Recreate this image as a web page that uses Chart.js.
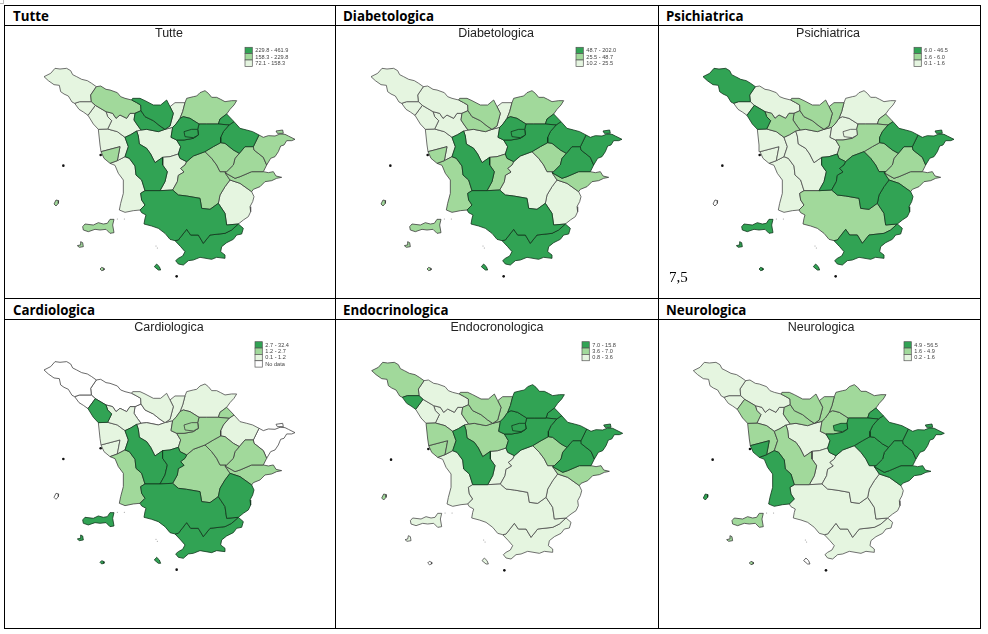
<!DOCTYPE html>
<html><head><meta charset="utf-8">
<script src="https://cdn.jsdelivr.net/npm/chart.js@4"></script>
<style>
html,body{margin:0;padding:0;background:#fff;overflow:hidden}
body{width:988px;height:634px;position:relative}
.ln{position:absolute;background:#000}
.hd{position:absolute;font:bold 13.3px "Open Sans",sans-serif;color:#000;line-height:18px}
canvas{position:absolute;filter:blur(.3px)}
</style></head><body>
<script>
// shared borders between areas (map units)
const aCoast=[[199,110],[185,100],[172,92],[155,88],[140,80],[128,74],[122,62],[110,55],[90,57],[75,55],[62,70],[42,80],[55,92],[72,104],[88,106],[92,125],[102,132],[115,138],[126,156],[134,160]];
const aB=[[134,160],[149,155],[184,155]];
const aC=[[184,155],[182,135],[199,110]];
const bC=[[184,155],[196,166]];
const bD=[[196,166],[174,196]];
const bCoast=[[174,196],[160,186],[147,178],[134,160]];
const cN=[[199,110],[212,108],[228,118],[240,120],[262,128],[272,140],[285,145],[305,150]];
const cF=[[305,150],[320,158],[332,165],[333,182]];
const cG=[[333,182],[315,190]];
const cE=[[315,190],[300,190],[290,205],[270,195],[258,205],[248,190],[228,185]];
const cD=[[228,185],[196,166]];
const dE=[[228,185],[233,200],[245,212],[233,237]];
const dZ=[[233,237],[205,238]];
const dCoast=[[205,238],[190,222],[174,196]];
const gE=[[315,190],[312,210],[322,225],[333,240]];
const eX=[[333,240],[320,243]];
const eY=[[320,243],[302,254],[285,262]];
const eZ=[[285,262],[262,245],[233,237]];
const fN=[[305,150],[308,145],[330,145],[345,152],[370,165],[392,165],[410,150],[420,170]];
const fH=[[420,170],[430,190],[420,228],[405,238]];
const fG=[[333,182],[345,200],[370,212],[390,228],[405,238]];
const gX=[[405,238],[385,245],[350,238],[333,240]];
const hN=[[420,170],[435,158],[465,158]];
const hI=[[465,158],[458,185],[450,205]];
const hJ=[[450,205],[438,222],[428,232]];
const hX=[[428,232],[405,238]];
const jX=[[428,232],[423,262],[440,270]];
const xL=[[440,270],[452,290],[445,312]];
const xW=[[445,312],[420,320],[398,322]];
const wL=[[445,312],[450,325],[470,335]];
const wS=[[470,335],[465,345],[452,355],[462,366],[445,376],[442,395],[428,420]];
const wY=[[390,422],[405,395],[412,365],[398,345],[398,322]];
const wU=[[390,422],[428,420]];
const xY=[[320,243],[325,258],[328,282],[350,295],[362,312],[375,338],[398,322]];
const zY=[[285,262],[295,290],[285,320]];
const yC=[[285,320],[298,325],[315,348],[318,375],[335,390],[345,422]];
const yU=[[345,422],[390,422]];
const zAa=[[285,320],[262,332]];
const zLiv=[[262,332],[270,290],[213,305]];
const zCoast=[[213,305],[210,285],[205,238]];
const livAa=[[262,332],[240,340]];
const livCoast=[[240,340],[222,325],[213,305]];
const cU=[[345,422],[332,430],[335,450],[345,465],[330,480]];
const aaCoast=[[330,480],[310,482],[285,487],[268,480],[272,460],[280,430],[280,390],[265,370],[255,346],[240,340]];
const uS=[[428,420],[445,435],[470,438],[510,445],[515,475],[540,478],[565,460]];
const uT=[[565,460],[585,490],[590,525],[625,522]];
const uV=[[625,522],[605,540],[585,550],[540,555],[520,580],[505,555],[482,555],[470,538],[445,570],[435,572]];
const uCoast=[[435,572],[420,568],[405,550],[385,535],[365,528],[342,522],[345,505],[348,495],[335,488],[330,480]];
const vOuter=[[625,522],[640,535],[635,552],[620,555],[610,568],[590,578],[575,590],[572,605],[585,615],[585,625],[560,622],[545,628],[510,622],[490,630],[475,632],[460,645],[445,642],[437,632],[445,625],[458,618],[465,605],[452,590],[435,572]];
const sT=[[565,460],[570,435],[585,410],[600,390]];
const tR=[[600,390],[630,400],[665,425]];
const tOuter=[[665,425],[672,440],[668,455],[660,470],[662,485],[655,500],[640,510],[625,522]];
const sR=[[600,390],[585,368]];
const sL=[[470,335],[490,318],[525,305]];
const sP=[[525,305],[545,325],[560,345],[570,365],[590,365]];
const sQ=[[590,365],[585,368]];
const lP=[[525,305],[550,290],[572,278]];
const pN=[[572,278],[585,280],[610,300],[628,310]];
const pQ=[[628,310],[615,325],[610,345],[590,365]];
const nQ=[[628,310],[645,290],[670,290]];
const qO=[[670,290],[672,300],[700,322],[710,345]];
const qO2=[[710,345],[700,365]];
const qR=[[700,365],[665,365],[630,380],[615,385],[585,368]];
const rOuter=[[700,365],[715,368],[730,365],[738,378],[755,382],[740,385],[725,392],[705,395],[690,410],[670,418],[665,425]];
const nO=[[670,290],[687,255]];
const oOuter=[[687,255],[700,262],[715,257],[735,258],[750,252],[765,253],[775,258],[795,268],[785,272],[770,272],[762,285],[752,288],[745,305],[735,320],[722,325],[710,345]];
const lN=[[572,278],[572,262],[580,245],[597,225]];
const mN=[[597,225],[612,215]];
const nNorth=[[612,215],[630,235],[650,240],[668,245],[687,255]];
const mOuter=[[612,215],[590,192]];
const mI=[[590,192],[570,207],[565,222]];
const mL=[[565,222],[597,225]];
const iN=[[465,158],[470,145],[490,140],[500,138],[510,128],[525,122],[535,130],[545,142],[560,142],[572,148],[585,155],[605,152],[620,152],[612,165],[600,178],[590,192]];
const iL=[[565,222],[530,222],[507,222]];
const iJ=[[507,222],[480,205],[460,200],[450,205]];
const jL=[[507,222],[503,238],[505,255],[490,265],[462,270],[440,270]];

const regionNames=["Lunigiana","Massa","Garfagnana","Versilia","Lucca","Pistoia","Nievole","Prato","Mugello","FirenzeRing","Firenze","Chianti","Tip","Casentino","Tiberina","Valdarno","Arezzo","Chiana","Siena","ChianaSen","Amiata","Maremma","Valdelsa","Empoli","Volterra","Pisa","Livorno","Cecina","Elba","Capraia","Pianosa","Giglio","Montecristo","Sestino"];
const Firenze=[[462,245],[485,238],[503,238],[505,255],[490,263],[465,260]];
const Elba=[[158,530],[165,522],[190,525],[205,518],[220,522],[232,520],[240,508],[252,508],[248,525],[252,548],[240,550],[228,538],[210,540],[195,538],[175,545],[160,540]];
const Capraia=[[72,462],[78,450],[86,452],[85,460],[78,468]];
const Pianosa=[[142,587],[150,585],[152,575],[158,578],[160,590],[148,592]];
const Giglio=[[373,650],[380,642],[388,650],[392,660],[385,660]];
const Montecristo=[[210,657],[215,652],[222,655],[222,660],[215,662]];
const Sestino=[[738,243],[758,240],[760,250],[742,250]];
function ring(...bs){
  const out=[];
  bs.forEach((b,i)=>{
    let seg=b;
    if(i===0){const n=bs[1];const e=b[b.length-1];if(!n.some(p=>p[0]===e[0]&&p[1]===e[1]))seg=[...b].reverse();
      out.push(...seg);return;}
    const l=out[out.length-1];
    if(!(b[0][0]===l[0]&&b[0][1]===l[1]))seg=[...b].reverse();
    out.push(...seg.slice(1));
  });
  return out;
}
const polygons=[
 ring(aCoast,aB,aC),
 ring(aB,bC,bD,bCoast),
 ring(cN,cF,cG,cE,cD,bC,aC),
 ring(cD,dE,dZ,dCoast,bD),
 ring(cE,gE,eX,eY,eZ,dE),
 ring(cF,fN,fH,fG),
 ring(cG,fG,gX,gE),
 ring(fH,hN,hI,hJ,hX),
 ring(hI,iN,mI,iL,iJ),
 ring(hJ,iJ,jL,jX),
 Firenze,
 ring(jL,iL,mL,lN,lP,sL,wL,xL),
 ring(mI,mOuter,mN,mL),
 ring(mN,nNorth,nO,nQ,pN,lN),
 ring(nO,oOuter,qO),
 ring(sP,lP,pN,pQ),
 ring(pQ,nQ,qO,qO2,qR,sQ),
 ring(qR,rOuter,tR,sR),
 ring(wS,uS,sT,sR,sQ,sP,sL),
 ring(uT,sT,tR,tOuter),
 ring(cU,yU,wU,uS,uT,uV,uCoast),
 ring(uV,vOuter),
 ring(xW,wL,wS,wU,wY),
 ring(hX,jX,xL,xW,xY,eX,gX),
 ring(eY,xY,wY,yU,yC,zY),
 ring(dZ,eZ,zY,zAa,zLiv,zCoast),
 ring(zLiv,livAa,livCoast),
 ring(zAa,yC,cU,aaCoast,livAa),
 Elba,Capraia,Pianosa,Giglio,Montecristo,Sestino
];
const specks=[[100,347],[440,679],[212,315]];
const tinySpecks=[[378,588],[382,594],[262,507],[283,507]];

// class per region: 0 no data, 1 low, 2 mid, 3 high
const tutteClass=[1,1,2,1,1,3,3,1,2,3,3,3,3,3,2,2,2,2,2,1,3,3,1,1,3,1,2,1,2,2,2,3,2,2];
const diabetoClass=[1,1,1,1,1,2,2,1,2,3,3,3,3,3,3,2,3,2,1,1,3,3,2,1,3,1,2,2,2,2,2,3,2,3];
const psichClass=[3,1,1,3,2,2,2,2,1,1,1,2,2,3,3,2,2,2,3,3,2,3,3,1,1,1,1,1,3,0,3,3,3,3];
const cardioClass=[0,0,0,3,1,1,0,1,1,2,2,2,2,1,0,2,2,2,2,3,3,3,3,1,3,1,1,2,3,0,3,3,3,0];
const endoClass=[2,3,1,1,1,2,2,2,3,3,3,3,3,3,3,2,3,2,1,1,1,1,1,2,3,2,2,1,1,2,1,1,0,3];
const neuroClass=[1,1,1,2,1,2,2,2,2,2,3,3,3,3,3,3,3,3,1,1,1,1,1,1,2,2,3,3,2,3,2,0,2,3];

const titles=["Tutte","Diabetologica","Psichiatrica","Cardiologica","Endocronologica","Neurologica"];
const headers=["Tutte","Diabetologica","Psichiatrica","Cardiologica","Endocrinologica","Neurologica"];
const legendTutte=["229.8 - 461.9","158.3 - 229.8","72.1 - 158.3"];
const legendDiabeto=["48.7 - 202.0","25.5 - 48.7","10.2 - 25.5"];
const legendPsich=["6.0 - 46.5","1.6 - 6.0","0.1 - 1.6"];
const legendCardio=["2.7 - 32.4","1.2 - 2.7","0.1 - 1.2","No data"];
const legendEndo=["7.0 - 15.8","3.6 - 7.0","0.8 - 3.6"];
const legendNeuro=["4.9 - 56.5","1.6 - 4.9","0.2 - 1.6"];
const classes=[tutteClass,diabetoClass,psichClass,cardioClass,endoClass,neuroClass];
const legends=[legendTutte,legendDiabeto,legendPsich,legendCardio,legendEndo,legendNeuro];

const colors=["#ffffff","#e5f5e0","#a1d99b","#31a354"];
const strokes=["#444444","#4d4d4d","#3d3d3d","#12361d"];
const vLines=[4,335,658,980], hLines=[5,25,298,319,628];
const cells=[[5,26,330,272],[336,26,322,272],[659,26,321,272],[5,320,330,308],[336,320,322,308],[659,320,321,308]];
const mapOrigin=[[30,50],[357,50],[689,50],[30,343.3],[357.7,344],[679.3,344]];
const titleCx=[169,496,828,169,497,821];
const legendPos=[[245,47.3],[576,47.3],[914,47.3],[255,341.7],[582,341.7],[904,341.7]];
const headX=[13,343,666,13,343,666];
const headY=[7,7,7,301,301,301];

vLines.forEach(x=>{const d=document.createElement('div');d.className='ln';d.style.cssText=`left:${x}px;top:5px;width:1px;height:624px`;document.body.appendChild(d)});
hLines.forEach(y=>{const d=document.createElement('div');d.className='ln';d.style.cssText=`left:4px;top:${y}px;width:977px;height:1px`;document.body.appendChild(d)});
const c0=document.createElement('div');c0.style.cssText='position:absolute;left:0;top:0;width:3px;height:3px;border-right:1px solid #bbb;border-bottom:1px solid #bbb';document.body.appendChild(c0);
headers.forEach((t,i)=>{const d=document.createElement('div');d.className='hd';d.textContent=t;d.style.left=headX[i]+'px';d.style.top=headY[i]+'px';document.body.appendChild(d)});

const overlay={id:'overlay',afterDraw(chart){
  const o=chart.options.plugins.overlay,ctx=chart.ctx;ctx.save();
  const sw=7.3,rh=6.35;
  o.labels.forEach((t,j)=>{
    const k=3-j,x=o.lx,y=o.ly+j*rh;
    ctx.fillStyle=colors[k];ctx.strokeStyle='#555';ctx.lineWidth=.7;
    ctx.fillRect(x,y,sw,rh);ctx.strokeRect(x,y,sw,rh);
    ctx.fillStyle='#444';ctx.font='5.6px "Liberation Sans",Arial,sans-serif';ctx.textBaseline='middle';ctx.textAlign='left';
    ctx.fillText(t,x+sw+3,y+rh/2+.3);
  });
  if(o.note){ctx.fillStyle='#000';ctx.font='15px "Liberation Serif",serif';ctx.textBaseline='alphabetic';ctx.fillText(o.note,o.nx,o.ny);}
  ctx.restore();
}};

cells.forEach((c,i)=>{
  const cv=document.createElement('canvas');
  cv.width=c[2];cv.height=c[3];
  cv.style.cssText=`left:${c[0]}px;top:${c[1]}px;width:${c[2]}px;height:${c[3]}px`;
  document.body.appendChild(cv);
  const ds=polygons.map((p,r)=>{const q=[...p,p[0]],k=classes[i][r];return {label:regionNames[r],data:q.map(v=>({x:v[0],y:v[1]})),showLine:true,tension:0,pointRadius:0,borderWidth:.8,borderColor:strokes[k],backgroundColor:colors[k],fill:'shape',clip:false,order:regionNames[r]==='Firenze'?-1:3-k}});
  ds.push({label:'small islands',data:specks.map(q=>({x:q[0],y:q[1]})),showLine:false,pointRadius:1.3,pointBackgroundColor:'#111',pointBorderWidth:0,clip:false,order:-2});
  ds.push({label:'rocks',data:tinySpecks.map(q=>({x:q[0],y:q[1]})),showLine:false,pointRadius:.5,pointBackgroundColor:'#888',pointBorderWidth:0,clip:false,order:-2});
  const chart=new Chart(cv,{type:'scatter',data:{datasets:ds},plugins:[overlay],options:{
    responsive:false,animation:false,devicePixelRatio:1,layout:{padding:0},
    plugins:{legend:{display:false},tooltip:{enabled:false},
      title:{display:true,text:titles[i],color:'#222',font:{family:'"Liberation Sans",Arial,sans-serif',size:12.5,weight:'normal'},padding:{top:0,bottom:2}},
      overlay:{labels:legends[i],lx:legendPos[i][0]-c[0],ly:legendPos[i][1]-c[1],note:i===2?'7,5':'',nx:669-c[0],ny:282-c[1]}},
    scales:{x:{type:'linear',display:false},y:{type:'linear',display:false,reverse:true}}
  }});
  const a=chart.chartArea,[ox,oy]=mapOrigin[i];
  chart.options.scales.x.min=(c[0]+a.left-ox)*3;chart.options.scales.x.max=(c[0]+a.right-ox)*3;
  chart.options.scales.y.min=(c[1]+a.top-oy)*3;chart.options.scales.y.max=(c[1]+a.bottom-oy)*3;
  chart.update('none');
  const tb=chart.titleBlock,dx=titleCx[i]-(c[0]+c[2]/2);tb.left+=dx;tb.right+=dx;chart.draw();
});
</script>
</body></html>
